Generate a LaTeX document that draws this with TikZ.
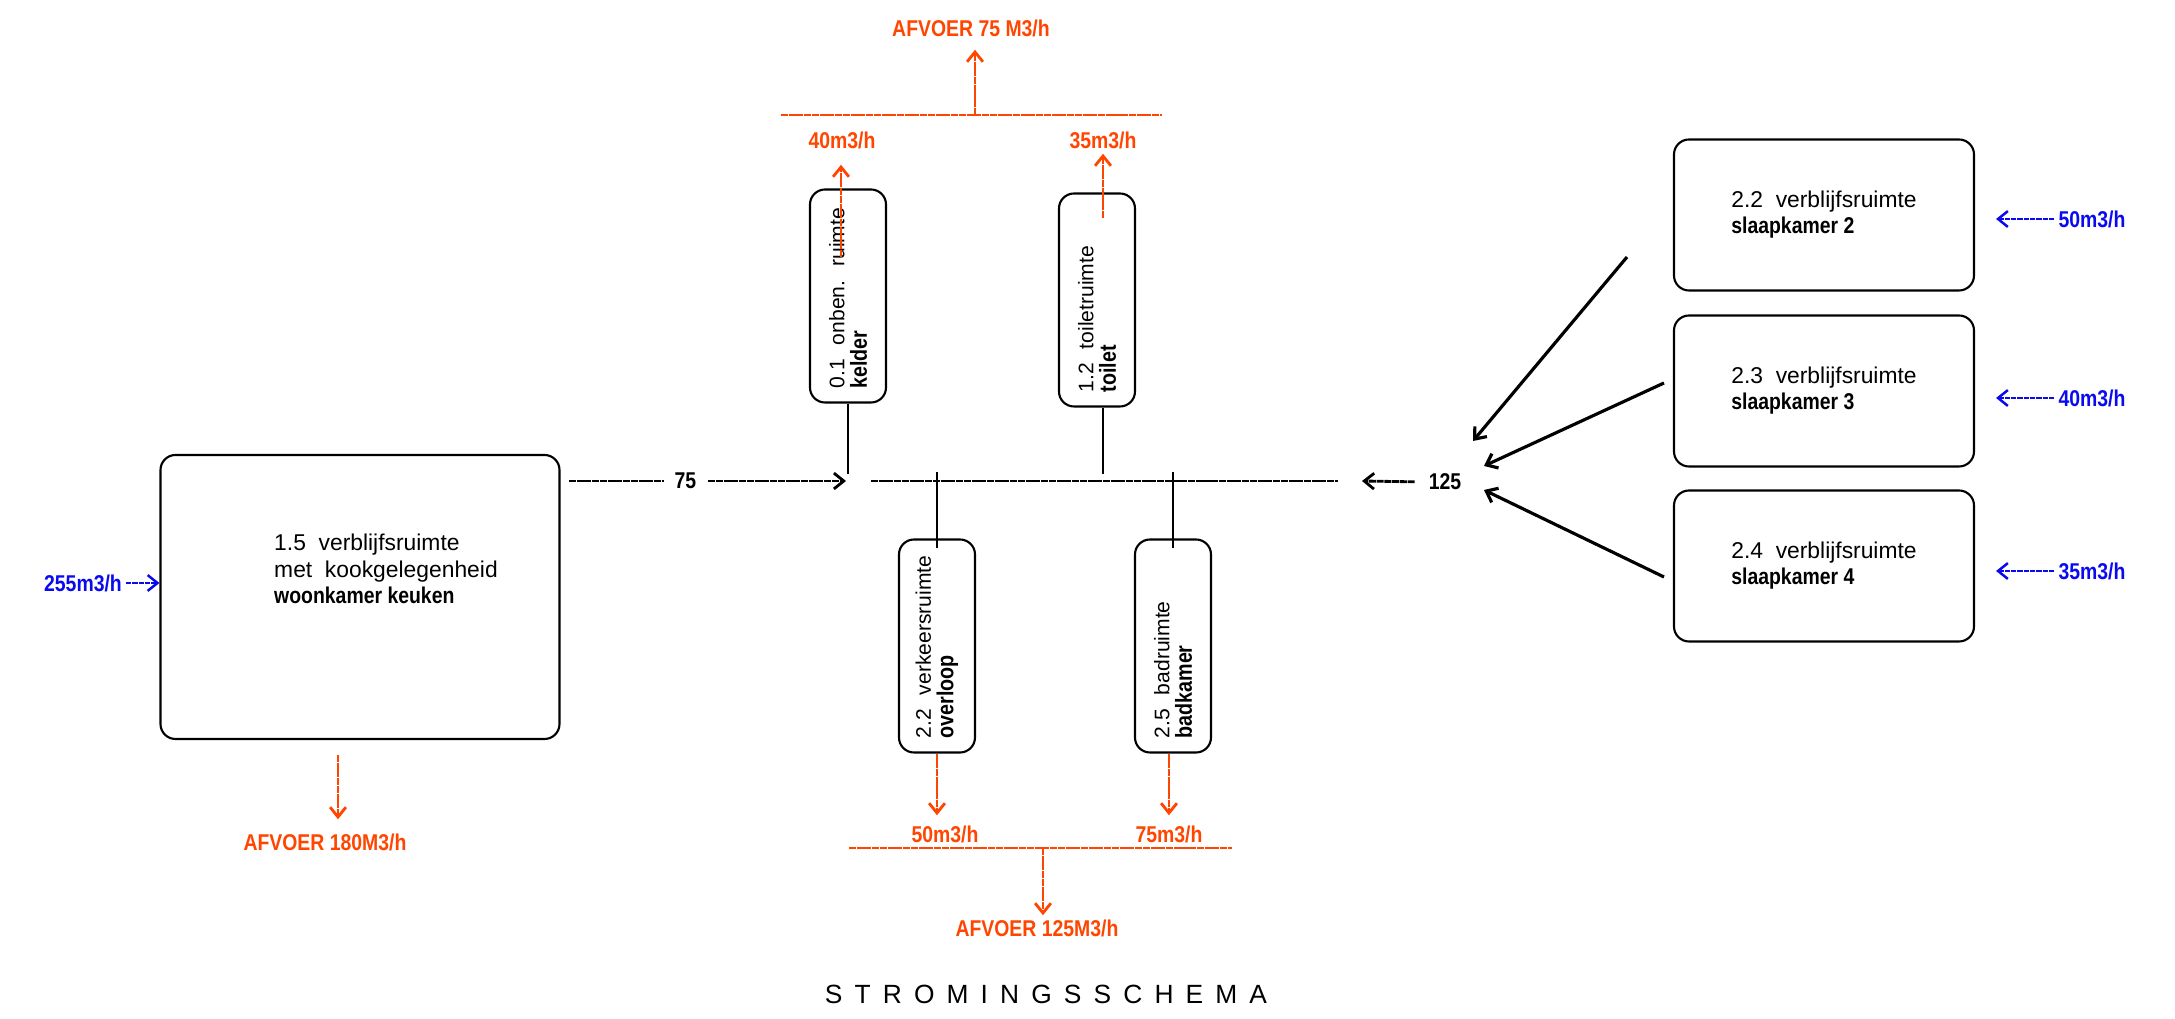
\documentclass[tikz,border=0pt]{standalone}
\usepackage{fontspec}
\setmainfont{Liberation Sans}
\newfontfamily\smal[FakeStretch=0.85]{Liberation Sans}
\usetikzlibrary{arrows.meta}
\definecolor{afvoerrood}{RGB}{255,69,0}
\definecolor{toevoerblauw}{RGB}{10,10,240}
\newcommand{\vet}[1]{{\smal\bfseries #1}}

\begin{document}
\begin{tikzpicture}[
		kamer/.style={draw=black, line width=0.6pt, rounded corners=0.15cm, inner sep=0pt},
		kamerv/.style={kamer, rotate=90, minimum width=2.13cm, minimum height=0.76cm, text width=1.85cm, align=left, font=\fontsize{6}{6.4}\selectfont},
		kamerh/.style={kamer, minimum width=3.00cm, minimum height=1.51cm, align=left, font=\fontsize{6.5}{7.4}\selectfont},
		kamertekst/.style={inner sep=0pt, align=left, font=\fontsize{6.5}{7.6}\selectfont},
		getal/.style={inner sep=1pt, font=\fontsize{6.5}{7}\smal\bfseries},
		afvoertxt/.style={getal, text=afvoerrood},
		toevoertxt/.style={getal, text=toevoerblauw},
		pijl/.style={-{Straight Barb[length=2.8pt,width=4.5pt]}},
		stroom/.style={draw=black, line width=0.8pt, dash pattern=on 2pt off 0.2pt},
		verbinding/.style={draw=black, line width=0.7pt},
		schuin/.style={draw=black, line width=0.9pt},
		afvoerlijn/.style={draw=afvoerrood, line width=0.8pt, dash pattern=on 2pt off 0.2pt},
		toevoerlijn/.style={draw=toevoerblauw, line width=0.7pt, dash pattern=on 1.5pt off 0.3pt}
	]
		\useasboundingbox (0.00,0.00) rectangle (21.75,10.19);

		% ruimtes
		\node[kamer, minimum width=3.99cm, minimum height=2.84cm] (woon) at (3.60,4.22) {};
		\node[kamertekst] (woontxt) at (3.86,4.50) {1.5~~verblijfsruimte\\met~~kookgelegenheid\\\vet{woonkamer keuken}};
		\node[kamerv] (kelder) at (8.48,7.23) {0.1~~onben.~~ruimte\\\vet{\fontsize{6.6}{6.4}\selectfont kelder}};
		\node[kamerv] (toilet) at (10.97,7.19) {1.2~~toiletruimte\\\vet{\fontsize{6.6}{6.4}\selectfont toilet}};
		\node[kamerv] (overloop) at (9.37,3.73) {2.2~~verkeersruimte\\\vet{\fontsize{6.6}{6.4}\selectfont overloop}};
		\node[kamerv] (badkamer) at (11.73,3.73) {2.5~~badruimte\\\vet{\fontsize{6.6}{6.4}\selectfont badkamer}};
		\node[kamerh] (slaap2) at (18.24,8.04) {2.2~~verblijfsruimte\\\vet{slaapkamer 2}};
		\node[kamerh] (slaap3) at (18.24,6.28) {2.3~~verblijfsruimte\\\vet{slaapkamer 3}};
		\node[kamerh] (slaap4) at (18.24,4.53) {2.4~~verblijfsruimte\\\vet{slaapkamer 4}};

		% verzamelleiding
		\coordinate (busL) at (8.71,5.38);
		\coordinate (busR) at (13.38,5.38);
		\draw[stroom] (busL) -- (busR);
		\coordinate (woonuit) at (5.69,5.38);
		\draw[stroom, pijl] (woonuit) -- node[getal, fill=white, inner xsep=3pt, pos=0.42] (n75) {75} ([xshift=-0.25cm]busL);
		\node[getal] (n125) at (14.45,5.37) {125};
		\draw[stroom, pijl, shorten <=0.1cm] (n125.west) -- ([xshift=0.24cm]busR);
		\draw[verbinding] (kelder.west) -- ([yshift=0.07cm]kelder.west |- busL);
		\draw[verbinding] ([xshift=0.06cm]toilet.west) -- ([xshift=0.06cm, yshift=0.07cm]toilet.west |- busL);
		\draw[verbinding] ([yshift=0.09cm]overloop.east |- busL) -- ([yshift=-0.1cm]overloop.east);
		\draw[verbinding] ([yshift=0.09cm]badkamer.east |- busL) -- ([yshift=-0.1cm]badkamer.east);

		% slaapkamers naar 125
		\coordinate (van2) at (16.27,7.62);
		\coordinate (naar2) at (14.73,5.78);
		\coordinate (van3) at (16.64,6.36);
		\coordinate (naar3) at (14.84,5.53);
		\coordinate (van4) at (16.64,4.42);
		\coordinate (naar4) at (14.84,5.29);
		\draw[schuin, pijl] (van2) -- (naar2);
		\draw[schuin, pijl] (van3) -- (naar3);
		\draw[schuin, pijl] (van4) -- (naar4);

		% toevoer
		\node[toevoertxt] (in255) at (0.83,4.36) {255m3/h};
		\draw[toevoerlijn, pijl] (in255.east) -- (in255.east -| woon.west);
		\node[toevoertxt] (in50) at (20.92,8.00) {50m3/h};
		\node[toevoertxt] (in40) at (20.92,6.21) {40m3/h};
		\node[toevoertxt] (in35) at (20.92,4.48) {35m3/h};
		\draw[toevoerlijn, pijl, shorten >=0.21cm] (in50.west) -- (in50.west -| slaap2.east);
		\draw[toevoerlijn, pijl, shorten >=0.21cm] (in40.west) -- (in40.west -| slaap3.east);
		\draw[toevoerlijn, pijl, shorten >=0.21cm] (in35.west) -- (in35.west -| slaap4.east);

		% afvoer boven
		\coordinate (afvL) at (7.81,9.04);
		\coordinate (afvR) at (11.62,9.04);
		\draw[afvoerlijn] (afvL) -- (afvR);
		\node[afvoertxt] (af75) at (9.71,9.91) {AFVOER 75 M3/h};
		\coordinate (afv75) at (9.75,9.04);
		\draw[afvoerlijn, pijl] (afv75) -- ([yshift=-0.09cm]afv75 |- af75.south);
		\node[afvoertxt] (k40) at (8.42,8.79) {40m3/h};
		\node[afvoertxt] (t35) at (11.03,8.79) {35m3/h};
		\coordinate (kelderuit) at (8.41,7.62);
		\draw[afvoerlijn, pijl] (kelderuit) -- ([yshift=-0.12cm]kelderuit |- k40.south);
		\coordinate (toiletuit) at (11.03,8.01);
		\draw[afvoerlijn, pijl] (toiletuit) -- ([yshift=-0.01cm]toiletuit |- t35.south);

		% afvoer onder
		\node[afvoertxt] (o50) at (9.45,1.85) {50m3/h};
		\node[afvoertxt] (b75) at (11.69,1.85) {75m3/h};
		\draw[afvoerlijn, pijl] (overloop.west) -- ([yshift=0.06cm]overloop.west |- o50.north);
		\draw[afvoerlijn, pijl] ([xshift=-0.04cm]badkamer.west) -- ([xshift=-0.04cm, yshift=0.06cm]badkamer.west |- b75.north);
		\coordinate (afvoL) at (8.49,1.71);
		\coordinate (afvoR) at (12.32,1.71);
		\draw[afvoerlijn] (afvoL) -- (afvoR);
		\node[afvoertxt] (af125) at (10.37,0.91) {AFVOER 125M3/h};
		\coordinate (afv125) at (10.43,1.71);
		\draw[afvoerlijn, pijl] (afv125) -- (afv125 |- af125.north);

		% afvoer woonkamer
		\node[afvoertxt] (af180) at (3.25,1.77) {AFVOER 180M3/h};
		\coordinate (woonaf) at (3.38,2.64);
		\draw[afvoerlijn, pijl] (woonaf) -- ([yshift=0.1cm]woonaf |- af180.north);

		\node[font=\fontsize{7.5}{9}\selectfont\addfontfeature{LetterSpace=46}] (titel) at (10.46,0.245) {STROMINGSSCHEMA};
	\end{tikzpicture}
\end{document}
